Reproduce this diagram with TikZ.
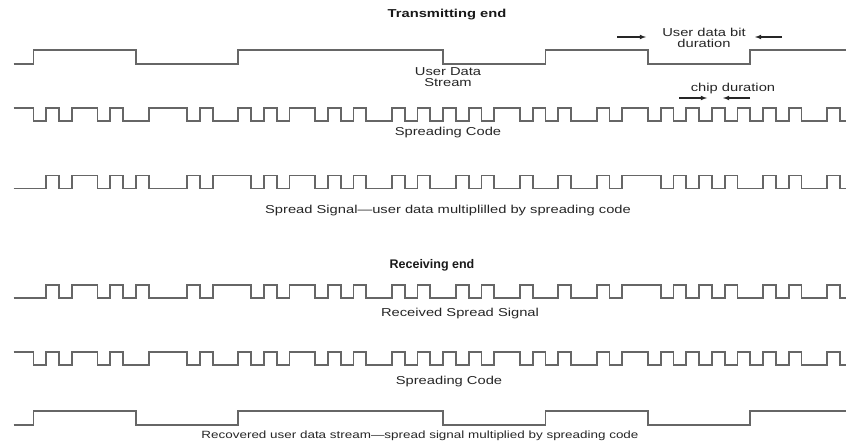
\documentclass[tikz,border=0pt]{standalone}
\usepackage{fontspec}
\setmainfont{Liberation Sans}[FakeStretch=1.28]
\newfontfamily\rxfont{Liberation Sans}
\usetikzlibrary{arrows}

\begin{document}
\begin{tikzpicture}[x=1pt,y=-1pt,
  sig/.style={line width=1.7pt, black!60, line join=miter},
  arr/.style={-latex, line width=1.1pt, black!85},
  lbl/.style={font=\fontsize{11.5}{11}\selectfont, text=black!85, inner sep=0pt},
  ttl/.style={font=\fontsize{11.5}{12}\selectfont\bfseries, text=black!90, inner sep=0pt}]
\useasboundingbox (0,0) rectangle (846,444);
\clip (0,0) rectangle (846,444);
% bits of user data, chips of the spreading code
\def\databits{1,0,1,1,0,1,0,1}
\def\codechips{0,1,0,1,1,0,1,0, 0,1,1,1,0,1,0,0, 1,0,1,0,1,1,0,1, 0,1,0,0,1,0,1,0,
               1,0,1,0,1,1,0,1, 0,1,0,0,1,0,1,1, 0,1,0,1,0,1,0,1, 0,1,0,1,0,0,1,0}

% Transmitting end
\node[ttl] (txend) at (447,15) {Transmitting end};
\node[lbl, align=center] (bitdur) at (704,37.5) {User data bit\\duration};
\coordinate (bitA) at (646,37);
\coordinate (bitB) at (755,37);
\draw[arr] (bitA) ++(-29,0) -- (bitA);
\draw[arr] (bitB) ++(27,0) -- (bitB);
% user data stream
\draw[sig] (13.5,64) -- (33.5,64) \foreach \d [count=\i] in \databits { |- ({33.5+\i*102.4},{64-14*\d}) };
\node[lbl, align=center] (datalbl) at (448,77.5) {User Data\\Stream};
\node[lbl] (chiplbl) at (733,89) {chip duration};
\coordinate (chipA) at (707,98);
\coordinate (chipB) at (723,98);
\draw[arr] (chipA) ++(-28,0) -- (chipA);
\draw[arr] (chipB) ++(27,0) -- (chipB);
% spreading code
\draw[sig] (13.5,108) -- (33.5,108) \foreach \c [count=\i] in \codechips { |- ({33.5+\i*12.8},{121-13*\c}) };
\node[lbl] (codelbl) at (448,133) {Spreading Code};
% spread signal
\draw[sig] (13.5,188.5) -- (33.5,188.5) \foreach \c [count=\i] in \codechips { |- ({33.5+\i*12.8},{175.5+13*abs(\c-{\databits}[int((\i-1)/8)])}) };
\node[lbl] (spreadlbl) at (448,211) {Spread Signal---user data multiplilled by spreading code};

% Receiving end
\node[ttl, font=\fontsize{12.5}{13}\rxfont\bfseries] (rxend) at (432,265) {Receiving end};
\draw[sig] (13.5,298) -- (33.5,298) \foreach \c [count=\i] in \codechips { |- ({33.5+\i*12.8},{285+13*abs(\c-{\databits}[int((\i-1)/8)])}) };
\node[lbl] (rxlbl) at (460,314) {Received Spread Signal};
\draw[sig] (13.5,352) -- (33.5,352) \foreach \c [count=\i] in \codechips { |- ({33.5+\i*12.8},{365-13*\c}) };
\node[lbl] (code2lbl) at (449,382) {Spreading Code};
\draw[sig] (13.5,425) -- (33.5,425) \foreach \d [count=\i] in \databits { |- ({33.5+\i*102.4},{425-14*\d}) };
\node[lbl, font=\fontsize{10.5}{11}\selectfont] (reclbl) at (420,436) {Recovered user data stream---spread signal multiplied by spreading code};
\end{tikzpicture}
\end{document}
